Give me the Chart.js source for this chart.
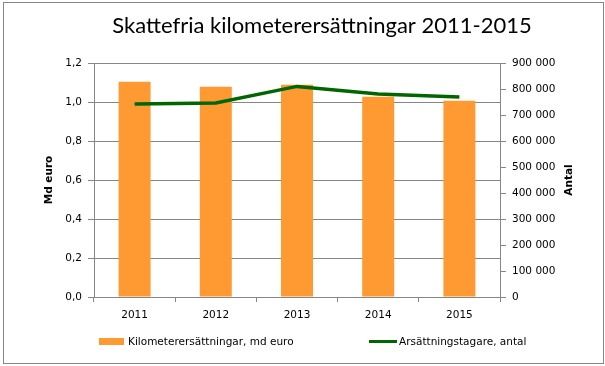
<!DOCTYPE html>
<html>
<head>
<meta charset="utf-8">
<script src="https://cdn.jsdelivr.net/npm/chart.js@4"></script>
<style>
  body { margin: 0; background: #fff; }
  canvas { display: block; }
</style>
</head>
<body>
<canvas id="kmChart" width="605" height="366"></canvas>
<script>
const years = ["2011", "2012", "2013", "2014", "2015"];
const ersattning = [1.104, 1.078, 1.089, 1.027, 1.007];   // md euro
const mottagare = [742000, 746000, 810000, 781000, 769000]; // antal
const chartTitle = "Skattefria kilometerersättningar 2011-2015";
const barLabel = "Kilometerersättningar, md euro";
const lineLabel = "Arsättningstagare, antal";

const tickFont = { family: "DejaVu Sans", size: 10.5 };
const gridGrey = "#868686";

// thousands with a space, like 900 000
const spaced = (v) => String(v).replace(/\B(?=(\d{3})+(?!\d))/g, " ");

// border, title, right axis title and legend drawn by hand
const extras = {
  id: "extras",
  afterDraw(chart) {
    const ctx = chart.ctx;
    const bars = chart.data.datasets.find((d) => d.type !== "line");
    const line = chart.data.datasets.find((d) => d.type === "line");
    ctx.save();
    ctx.strokeStyle = gridGrey;
    ctx.lineWidth = 1;
    ctx.strokeRect(3.5, 2.5, 600, 361);

    // title, a bit right of centre like the original
    ctx.font = "22px Lato";
    ctx.fillStyle = "#000";
    ctx.textAlign = "center";
    ctx.textBaseline = "alphabetic";
    ctx.fillText(chartTitle, 322, 33);

    // "Antal" reads bottom to top
    ctx.translate(569, 180);
    ctx.rotate(-Math.PI / 2);
    ctx.font = "bold 10.5px 'DejaVu Sans'";
    ctx.textBaseline = "middle";
    ctx.fillText("Antal", 0, 0);
    ctx.setTransform(1, 0, 0, 1, 0, 0);

    // legend
    ctx.font = "10.5px 'DejaVu Sans'";
    ctx.textAlign = "left";
    ctx.fillStyle = bars.backgroundColor;
    ctx.fillRect(99, 338, 25, 7);
    ctx.fillStyle = "#000";
    ctx.fillText(bars.label, 128, 342);
    ctx.strokeStyle = line.borderColor;
    ctx.lineWidth = 3;
    ctx.beginPath();
    ctx.moveTo(369, 341.5);
    ctx.lineTo(397, 341.5);
    ctx.stroke();
    ctx.fillText(line.label, 399, 342);
    ctx.restore();
  }
};

new Chart(document.getElementById("kmChart"), {
  type: "bar",
  data: {
    labels: years,
    datasets: [
      {
        type: "line",
        label: lineLabel,
        data: mottagare,
        yAxisID: "y2",
        borderColor: "#006600",
        borderWidth: 3.5,
        pointRadius: 0,
        tension: 0,
        order: 0
      },
      {
        type: "bar",
        label: barLabel,
        data: ersattning,
        yAxisID: "y",
        backgroundColor: "#FF9A33",
        barPercentage: 0.394,
        categoryPercentage: 1,
        order: 1
      }
    ]
  },
  options: {
    responsive: false,
    animation: false,
    layout: { padding: { left: 30, right: 20, top: 63, bottom: 39 } },
    plugins: {
      legend: { display: false },
      tooltip: { enabled: false },
      title: { display: false }
    },
    scales: {
      x: {
        offset: true,
        afterFit: (s) => { s.height = 30; },
        grid: { offset: true, drawOnChartArea: false, tickLength: 5, color: gridGrey },
        border: { color: gridGrey },
        ticks: { color: "#000", font: tickFont, padding: 7 }
      },
      y: {
        position: "left",
        min: 0,
        max: 1.2,
        afterFit: (s) => { s.width = 64; },
        ticks: {
          stepSize: 0.2,
          color: "#000",
          font: tickFont,
          padding: 6,
          callback: (v) => v.toFixed(1).replace(".", ",")
        },
        grid: { color: gridGrey, tickLength: 6 },
        border: { color: gridGrey },
        title: {
          display: true,
          text: "Md euro",
          color: "#000",
          font: { family: "DejaVu Sans", size: 10.5, weight: "bold" },
          padding: { top: 13, bottom: 0 }
        }
      },
      y2: {
        position: "right",
        min: 0,
        max: 900000,
        afterFit: (s) => { s.width = 85; },
        ticks: {
          stepSize: 100000,
          color: "#000",
          font: tickFont,
          padding: 6,
          callback: (v) => spaced(v)
        },
        grid: { drawOnChartArea: false, color: gridGrey, tickLength: 6 },
        border: { color: gridGrey }
      }
    }
  },
  plugins: [extras]
});
</script>
</body>
</html>
